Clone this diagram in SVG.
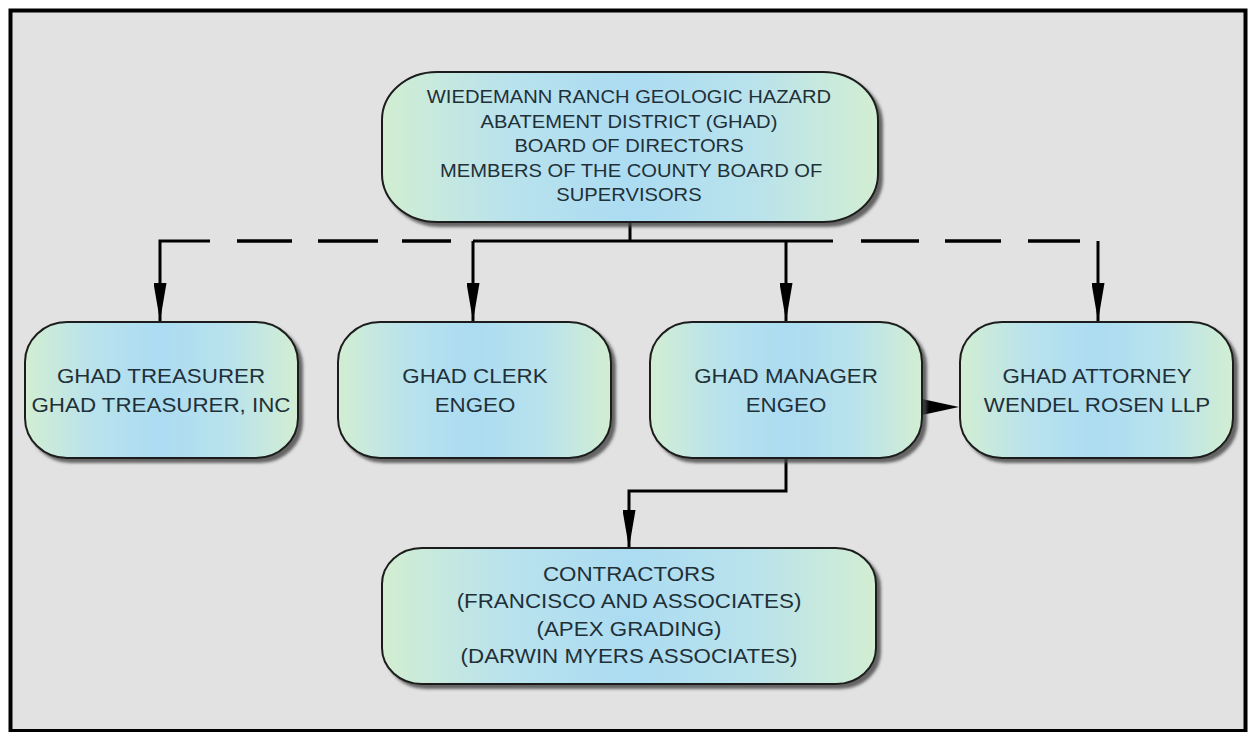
<svg xmlns="http://www.w3.org/2000/svg" width="1249" height="732" viewBox="0 0 1249 732">
  <style>
    .box { stroke: #1c1c1c; stroke-width: 2; fill: url(#fillg); filter: url(#sh); }
    .t { font-family: "Liberation Sans", Arial, sans-serif; fill: #1f3038; text-anchor: middle; }
    .top { font-size: 18.5px; }
    .mid { font-size: 20.5px; }
    .ln { stroke: #000; stroke-width: 3; fill: none; }
    .dash { stroke: #000; stroke-width: 3.5; fill: none; }
  </style>
  <defs>
    <linearGradient id="fillg" x1="0" y1="0" x2="1" y2="0">
      <stop offset="0" stop-color="#d2eed2"/>
      <stop offset="0.25" stop-color="#b9e2ec"/>
      <stop offset="0.5" stop-color="#acdcf2"/>
      <stop offset="0.75" stop-color="#b9e2ec"/>
      <stop offset="1" stop-color="#d2eed2"/>
    </linearGradient>
    <filter id="sh" x="-10%" y="-10%" width="130%" height="130%">
      <feDropShadow dx="4" dy="4" stdDeviation="1.5" flood-color="#444" flood-opacity="0.8"/>
    </filter>
    <marker id="ah" markerUnits="userSpaceOnUse" markerWidth="38" markerHeight="13" refX="38" refY="6.5" orient="auto">
      <path d="M0,0 L38,6.5 L0,13 z" fill="#000"/>
    </marker>
  </defs>

  <rect x="0" y="0" width="1249" height="732" fill="#ffffff"/>
  <rect id="frame" x="10.5" y="10.5" width="1235" height="720.5" fill="#e2e2e2" stroke="#000" stroke-width="4"/>

  <g id="connectors">
    <path class="ln" d="M630,222 V241"/>
    <path class="ln" d="M473,241 H833"/>
    <path class="ln" d="M210,241 H160 V321" marker-end="url(#ah)"/>
    <path class="dash" d="M237,241 H292 M318,241 H378 M402,241 H451"/>
    <path class="ln" d="M473,241 V321" marker-end="url(#ah)"/>
    <path class="ln" d="M786,241 V321" marker-end="url(#ah)"/>
    <path class="dash" d="M861,241 H919 M945,241 H1001 M1028,241 H1080"/>
    <path class="ln" d="M1098,241 V321" marker-end="url(#ah)"/>
    <path class="ln" d="M786,458 V491 H629 V548" marker-end="url(#ah)"/>
    <polygon points="922,399 922,415 959,407" fill="#000"/>
  </g>

  <g id="board">
    <rect class="box" x="382" y="72" width="496" height="150" rx="55" ry="48"/>
    <g transform="matrix(1.09 0 0 1 -56.61 0)">
      <text class="t top" x="629" y="103.5">WIEDEMANN RANCH GEOLOGIC HAZARD</text>
      <text class="t top" x="629" y="128">ABATEMENT DISTRICT (GHAD)</text>
      <text class="t top" x="629" y="152.5">BOARD OF DIRECTORS</text>
      <text class="t top" x="631" y="177">MEMBERS OF THE COUNTY BOARD OF</text>
      <text class="t top" x="629" y="201.5">SUPERVISORS</text>
    </g>
  </g>

  <g id="treasurer">
    <rect class="box" x="25" y="322" width="273" height="136" rx="42" ry="40"/>
    <g transform="matrix(1.09 0 0 1 -14.49 0)">
      <text class="t mid" x="161" y="383">GHAD TREASURER</text>
      <text class="t mid" x="161" y="412">GHAD TREASURER, INC</text>
    </g>
  </g>

  <g id="clerk">
    <rect class="box" x="338" y="322" width="273" height="136" rx="42" ry="40"/>
    <g transform="matrix(1.09 0 0 1 -42.75 0)">
      <text class="t mid" x="475" y="383">GHAD CLERK</text>
      <text class="t mid" x="475" y="412">ENGEO</text>
    </g>
  </g>

  <g id="manager">
    <rect class="box" x="650" y="322" width="272" height="136" rx="42" ry="40"/>
    <g transform="matrix(1.09 0 0 1 -70.74 0)">
      <text class="t mid" x="786" y="383">GHAD MANAGER</text>
      <text class="t mid" x="786" y="412">ENGEO</text>
    </g>
  </g>

  <g id="attorney">
    <rect class="box" x="960" y="322" width="273" height="136" rx="42" ry="40"/>
    <g transform="matrix(1.09 0 0 1 -98.73 0)">
      <text class="t mid" x="1097" y="383">GHAD ATTORNEY</text>
      <text class="t mid" x="1097" y="412">WENDEL ROSEN LLP</text>
    </g>
  </g>

  <g id="contractors">
    <rect class="box" x="382" y="548" width="494" height="136" rx="40" ry="36"/>
    <g transform="matrix(1.09 0 0 1 -56.61 0)">
      <text class="t mid" x="629" y="581">CONTRACTORS</text>
      <text class="t mid" x="629" y="608">(FRANCISCO AND ASSOCIATES)</text>
      <text class="t mid" x="629" y="636">(APEX GRADING)</text>
      <text class="t mid" x="629" y="663">(DARWIN MYERS ASSOCIATES)</text>
    </g>
  </g>
</svg>
